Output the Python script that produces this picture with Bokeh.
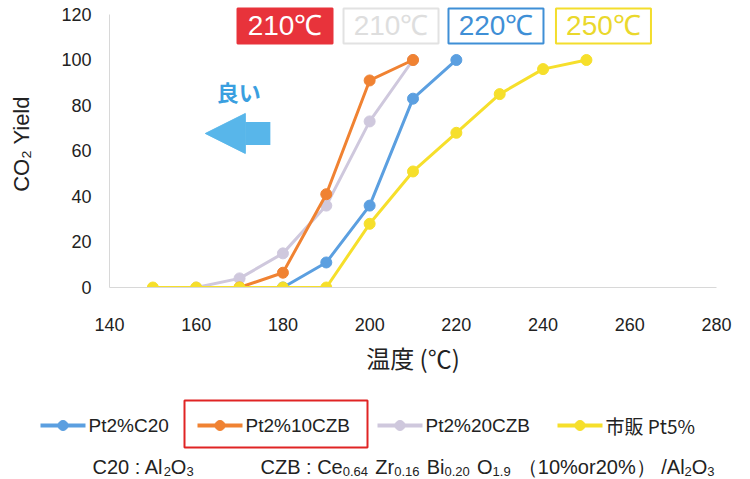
from bokeh.plotting import figure
from bokeh.layouts import column
from bokeh.models import Label, Arrow, NormalHead, Range1d, FixedTicker
from bokeh.embed import file_html
from bokeh.resources import INLINE
from bokeh.core.properties import value

# ---------------- data ----------------
series_names = ["Pt2%C20", "Pt2%10CZB", "Pt2%20CZB", "市販 Pt5%"]
temps_c20 = [180, 190, 200, 210, 220]
yield_c20 = [0, 11, 36, 83, 100]
temps_10czb = [170, 180, 190, 200, 210]
yield_10czb = [0, 6.5, 41, 91, 100]
temps_20czb = [160, 170, 180, 190, 200, 210]
yield_20czb = [0, 4, 15, 36, 73, 100]
temps_pt5 = [150, 160, 170, 180, 190, 200, 210, 220, 230, 240, 250]
yield_pt5 = [0, 0, 0, 0, 0, 28, 51, 68, 85, 96, 100]
x_ticks = [140, 160, 180, 200, 220, 240, 260, 280]
y_ticks = [0, 20, 40, 60, 80, 100, 120]

colors = ["#5b9fe0", "#f08232", "#cfc8dd", "#f6df2b"]

series = [
    (temps_c20, yield_c20),
    (temps_10czb, yield_10czb),
    (temps_20czb, yield_20czb),
    (temps_pt5, yield_pt5),
]

FONT = "Liberation Sans"
CJK = "Noto Sans CJK JP"

p = figure(width=750, height=385, output_backend="svg", toolbar_location=None,
           x_range=Range1d(140, 280), y_range=Range1d(0, 126.15),
           min_border_left=109, min_border_right=34, min_border_top=0,
           min_border_bottom=98)
p.outline_line_color = None
p.grid.grid_line_color = None
p.background_fill_color = "white"
p.border_fill_color = "white"

for ax in (p.xaxis[0], p.yaxis[0]):
    ax.major_tick_line_color = None
    ax.minor_tick_line_color = None
    ax.axis_line_color = "#d8d8d8"
    ax.axis_line_width = 1
    ax.major_label_text_font = FONT
    ax.major_label_text_font_size = "18px"
    ax.major_label_text_color = "#222222"
    ax.axis_label_text_font_style = "normal"
    ax.axis_label_text_color = "#222222"

p.xaxis.ticker = FixedTicker(ticks=x_ticks)
p.yaxis.ticker = FixedTicker(ticks=y_ticks)
p.yaxis.bounds = (0, 120)
p.xaxis.major_label_standoff = 24
p.yaxis.major_label_standoff = 12
p.xaxis.axis_label = "温度 (℃)"
p.xaxis.axis_label_text_font = CJK
p.xaxis.axis_label_text_font_size = "24px"
p.xaxis.axis_label_standoff = 6
p.yaxis.axis_label = "CO₂ Yield"
p.yaxis.axis_label_text_font = FONT
p.yaxis.axis_label_text_font_size = "22px"
p.yaxis.axis_label_standoff = 24

order = [0, 2, 1, 3]
for i in order:
    xs, ys = series[i]
    p.line(xs, ys, line_color=colors[i], line_width=3)
    p.scatter(xs, ys, size=11, fill_color=colors[i], line_color=colors[i])

# temperature boxes: temperature at which each series reaches its max yield
box_x = [180.48, 204.93, 229.14, 253.93]
box_y = 114.95
label_order = [1, 2, 0, 3]
box_fill = ["#e8333b", None, None, None]
box_line = ["#e8333b", "#e2e2e2", "#3f8fd6", "#f3dd2c"]
box_txt = ["#ffffff", "#dedede", "#3f8fd6", "#ead82c"]
for k, i in enumerate(label_order):
    xs, ys = series[i]
    t100 = xs[ys.index(max(ys))]
    p.rect([box_x[k]], [box_y], width=95, height=35, width_units="screen",
           height_units="screen", fill_color=box_fill[k],
           fill_alpha=1 if box_fill[k] else 0,
           line_color=box_line[k], line_width=2)
    p.add_layout(Label(x=box_x[k], y=box_y, text=f"{t100}℃", text_align="center",
                       text_baseline="middle", text_font=FONT,
                       text_font_size="28px", text_color=box_txt[k]))

arrow = Arrow(x_start=177.1, y_start=67.7, x_end=162.1, y_end=67.7,
              line_color="#58b6ea", line_width=23,
              end=NormalHead(size=40, fill_color="#58b6ea", line_color="#58b6ea"))
p.add_layout(arrow)
p.add_layout(Label(x=169.8, y=86.2, text="良い", text_align="center",
                   text_baseline="middle", text_font=CJK, text_font_size="22px",
                   text_font_style="bold", text_color="#3a9fe0"))

# ---------------- legend / footnote panel ----------------
q = figure(width=750, height=94, output_backend="svg", toolbar_location=None,
           x_range=Range1d(0, 750), y_range=Range1d(0, 94),
           min_border=0, min_border_left=0, min_border_right=0,
           min_border_top=0, min_border_bottom=0)
q.axis.visible = False
q.grid.grid_line_color = None
q.outline_line_color = None
for fig in (p, q):
    try:
        fig.frame_align = False
    except Exception:
        pass

legend_x = [40, 197, 377, 557]
sw = 45
ly = 54
for i, name in enumerate(series_names):
    x0 = legend_x[i]
    q.line([x0, x0 + sw], [ly, ly], line_color=colors[i], line_width=4)
    q.scatter([x0 + sw / 2], [ly], size=10, fill_color=colors[i], line_color=colors[i])
    q.text([x0 + sw + 3], [ly], text=[name], text_baseline="middle",
           text_font=value(FONT if i < 3 else CJK), text_font_size="19px",
           text_color="#222222")
q.quad(left=[184], right=[367], bottom=[32], top=[79], fill_color=None,
       line_color="#e02424", line_width=2)

# footnote with subscripts, laid out with Arial/Liberation metrics
W = {' ': 278, ':': 278, 'C': 722, 'Z': 611, 'B': 667, 'e': 556, 'r': 333,
     'i': 222, 'O': 778, 'A': 667, 'l': 222, '/': 278, '%': 889, 'o': 556,
     '(': 333, ')': 333, '.': 278, '（': 1000, '）': 1000}


def width(s, size):
    return sum(W.get(ch, 556) for ch in s) * size / 1000.0


MAIN, SUB = 20, 13


def footnote(x, pieces):
    for txt, sub in pieces:
        size = SUB if sub else MAIN
        stripped = txt.lstrip(" ")
        x += width(txt[:len(txt) - len(stripped)], size) * 1.3
        q.text([x], [8 if sub else 13], text=[stripped], text_baseline="middle",
               text_font=value(FONT), text_font_size=f"{size}px",
               text_color="#222222")
        x += width(stripped, size)


footnote(92, [("C20 : Al", 0), ("2", 1), ("O", 0), ("3", 1)])
footnote(260, [("CZB : Ce", 0), ("0.64", 1), (" Zr", 0), ("0.16", 1), (" Bi", 0),
               ("0.20", 1), (" O", 0), ("1.9", 1), (" （10%or20%） /Al", 0),
               ("2", 1), ("O", 0), ("3", 1)])

layout = column(p, q, spacing=0)
open("out.html", "w").write(file_html(layout, INLINE))
